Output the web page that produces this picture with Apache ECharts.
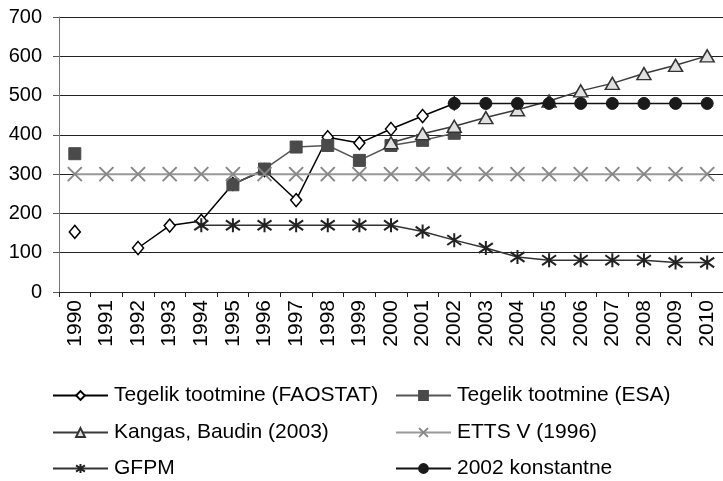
<!DOCTYPE html>
<html>
<head>
<meta charset="utf-8">
<script src="https://cdn.jsdelivr.net/npm/echarts@6/dist/echarts.min.js"></script>
<style>
  html, body { margin: 0; padding: 0; background: #fff; }
  #chart { width: 723px; height: 481px; }
</style>
</head>
<body>
<div id="chart"></div>
<script>
// aastad (x-telg)
const years = ['1990', '1991', '1992', '1993', '1994', '1995', '1996', '1997', '1998', '1999', '2000',
  '2001', '2002', '2003', '2004', '2005', '2006', '2007', '2008', '2009', '2010'];

// seeriad, null = andmed puuduvad
const faostat = [153, null, 112, 169, 181, 275, 310, 234, 394, 379, 415, 448, 480,
  null, null, null, null, null, null, null, null];
const esa = [352, null, null, null, null, 273, 313, 369, 373, 335, 373, 386, 404,
  null, null, null, null, null, null, null, null];
const kangas = [null, null, null, null, null, null, null, null, null, null, 380, 403, 422,
  444, 464, 486, 512, 531, 556, 577, 601];
const etts = [300, 300, 300, 300, 300, 300, 300, 300, 300, 300, 300, 300, 300,
  300, 300, 300, 300, 300, 300, 300, 300];
const gfpm = [null, null, null, null, 170, 170, 170, 170, 170, 170, 170, 154, 132,
  112, 89, 81, 81, 81, 81, 75, 75];
const konst = [null, null, null, null, null, null, null, null, null, null, null, null, 480,
  480, 480, 480, 480, 480, 480, 480, 480];

const yTicks = { min: 0, max: 700, step: 100 };

const FONT = '"Liberation Sans", Arial, sans-serif';
const crossPath = 'path://M0,0L10,10M0,10L10,0';
const starPath = 'path://M5,0L5,10M0,1.5L10,8.5M0,8.5L10,1.5';

const chart = echarts.init(document.getElementById('chart'), null, { renderer: 'canvas' });

function legendAt(name, left, top) {
  return {
    data: [name], left: left, top: top, orient: 'horizontal',
    itemWidth: 55, itemHeight: 11, itemGap: 0, padding: 0,
    textStyle: { fontFamily: FONT, fontSize: 21, color: '#000', padding: [0, 0, 0, 1] }
  };
}

const option = {
  animation: false,
  backgroundColor: '#fff',
  grid: { left: 59, top: 17, width: 666.5, bottom: 189, containLabel: false },
  legend: [
    legendAt('Tegelik tootmine (FAOSTAT)', 52, 385),
    legendAt('Tegelik tootmine (ESA)', 395, 385),
    legendAt('Kangas, Baudin (2003)', 52, 422),
    legendAt('ETTS V (1996)', 395, 422),
    legendAt('GFPM', 52, 458),
    legendAt('2002 konstantne', 395, 458)
  ],
  xAxis: {
    type: 'category',
    data: years,
    boundaryGap: true,
    axisLine: { lineStyle: { color: '#222', width: 1 } },
    axisTick: { show: true, length: 5, lineStyle: { color: '#222' } },
    axisLabel: { rotate: 90, margin: 8, fontFamily: FONT, fontSize: 21, color: '#000', interval: 0 },
    splitLine: { show: false }
  },
  yAxis: {
    type: 'value',
    min: yTicks.min, max: yTicks.max, interval: yTicks.step,
    axisLine: { show: true, lineStyle: { color: '#777', width: 1 } },
    axisTick: { show: true, length: 6, lineStyle: { color: '#555' } },
    axisLabel: { margin: 17, fontFamily: FONT, fontSize: 20, color: '#000' },
    splitLine: { show: true, lineStyle: { color: '#222', width: 1 } }
  },
  series: [
    {
      name: 'Tegelik tootmine (FAOSTAT)', type: 'line', data: faostat,
      symbol: 'diamond', symbolSize: [11, 13],
      lineStyle: { color: '#000', width: 1.5 },
      itemStyle: { color: '#fff', borderColor: '#000', borderWidth: 1.5 }
    },
    {
      name: 'Tegelik tootmine (ESA)', type: 'line', data: esa,
      symbol: 'rect', symbolSize: 12,
      lineStyle: { color: '#555', width: 1.5 },
      itemStyle: { color: '#4a4a4a', borderColor: '#4a4a4a', borderWidth: 1 }
    },
    {
      name: 'Kangas, Baudin (2003)', type: 'line', data: kangas,
      symbol: 'triangle', symbolSize: [14, 12],
      lineStyle: { color: '#3a3a3a', width: 1.5 },
      itemStyle: { color: '#e0e0e0', borderColor: '#333', borderWidth: 1.5 }
    },
    {
      name: 'ETTS V (1996)', type: 'line', data: etts,
      symbol: crossPath, symbolSize: 14,
      lineStyle: { color: '#999', width: 2 },
      itemStyle: { color: 'none', borderColor: '#888', borderWidth: 2 }
    },
    {
      name: 'GFPM', type: 'line', data: gfpm,
      symbol: starPath, symbolSize: 14,
      lineStyle: { color: '#333', width: 1.5 },
      itemStyle: { color: 'none', borderColor: '#222', borderWidth: 2 }
    },
    {
      name: '2002 konstantne', type: 'line', data: konst,
      symbol: 'circle', symbolSize: 12,
      lineStyle: { color: '#111', width: 1.5 },
      itemStyle: { color: '#1a1a1a', borderColor: '#1a1a1a', borderWidth: 1 }
    }
  ]
};

chart.setOption(option);
</script>
</body>
</html>
